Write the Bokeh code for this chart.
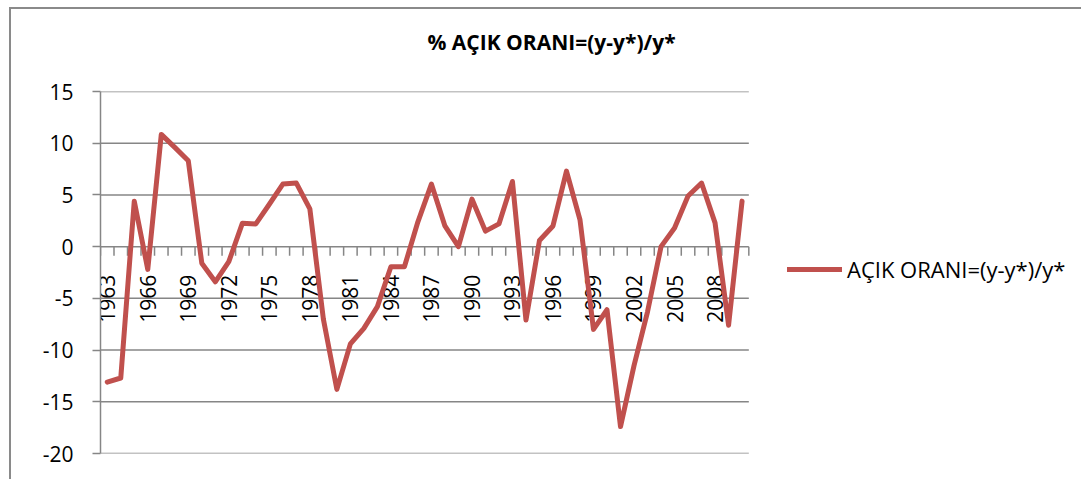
import math
from bokeh.plotting import figure
from bokeh.models import Range1d, Title, Legend, LegendItem, FixedTicker
from bokeh.core.properties import value
from bokeh.embed import file_html
from bokeh.resources import INLINE

# ---- data ----
years = list(range(1963, 2011))
gap = [-13.1, -12.7, 4.4, -2.2, 10.85, 9.6, 8.3, -1.6, -3.4, -1.45,
       2.25, 2.2, 4.1, 6.05, 6.15, 3.65, -7.0, -13.8, -9.4, -7.9,
       -5.8, -1.95, -1.95, 2.4, 6.05, 2.0, 0.0, 4.6, 1.5, 2.2,
       6.3, -7.1, 0.6, 2.0, 7.3, 2.6, -8.0, -6.1, -17.4, -11.5,
       -6.3, 0.0, 1.8, 4.9, 6.15, 2.3, -7.6, 4.4]
y_ticks = [-20, -15, -10, -5, 0, 5, 10, 15]
label_years = years[::3]
series_name = "AÇIK ORANI=(y-y*)/y*"
title_text = "% AÇIK ORANI=(y-y*)/y*"

# ---- style / layout ----
FONT = "Open Sans"
GRAY = "#868686"
RED = "#C0504D"
W, H = 1072, 472
BORDER = 2
ML, MT, MR = 89, 82, 2
FH = 360                      # plot-area height in px
MB = H - BORDER - MT - FH
FW = W - BORDER - ML - MR     # frame width (legend lives inside it)
AREA_W = 647                  # width of the plotted category area in px
px_per_cat = AREA_W / len(years)
x_start = years[0] - 0.5
x_end = x_start + FW / px_per_cat

p = figure(width=W, height=H, output_backend="svg", toolbar_location=None,
           x_range=Range1d(x_start, x_end),
           y_range=Range1d(min(y_ticks), max(y_ticks)),
           x_axis_location=None,
           min_border_left=ML, min_border_top=MT, min_border_bottom=MB, min_border_right=MR)
p.styles = {"margin-left": "9px", "margin-top": "7px",
            "border-left": f"{BORDER}px solid #8a8a8a",
            "border-top": f"{BORDER}px solid #8a8a8a",
            "box-sizing": "border-box"}
p.outline_line_color = None
p.background_fill_color = "white"
p.border_fill_color = "white"

p.add_layout(Title(text=title_text + "\n", align="left", offset=327, standoff=16,
                   text_font=FONT, text_font_size="21px", text_font_style="bold",
                   text_color="black"), "above")

# y axis
p.yaxis.ticker = FixedTicker(ticks=y_ticks)
p.yaxis.major_label_overrides = {t: str(t) for t in y_ticks}
p.yaxis.axis_line_color = GRAY
p.yaxis.axis_line_width = 1.5
p.yaxis.major_tick_line_color = GRAY
p.yaxis.major_tick_line_width = 1.5
p.yaxis.major_tick_out = 8
p.yaxis.major_tick_in = 0
p.yaxis.minor_tick_line_color = None
p.yaxis.major_label_standoff = 19
p.yaxis.major_label_text_font = FONT
p.yaxis.major_label_text_font_size = "21px"
p.yaxis.major_label_text_color = "black"
p.ygrid.grid_line_color = None
p.xgrid.grid_line_color = None

# horizontal gridlines only across the category area
bounds = [y - 0.5 for y in years] + [years[-1] + 0.5]
p.segment(x0=[bounds[0]] * len(y_ticks), x1=[bounds[-1]] * len(y_ticks),
          y0=y_ticks, y1=y_ticks, line_color=GRAY, line_width=1.5)

# category axis at y = 0 drawn by hand
tick_len = 9 * (max(y_ticks) - min(y_ticks)) / FH
p.segment(x0=bounds, x1=bounds, y0=[0] * len(bounds), y1=[-tick_len] * len(bounds),
          line_color=GRAY, line_width=1.5)
p.text(x=label_years, y=[0] * len(label_years), text=[str(y) for y in label_years],
       angle=math.pi / 2, text_align="right", text_baseline="middle", y_offset=28,
       text_font=value(FONT), text_font_size="21px", text_color="black")

r = p.line(years, gap, line_color=RED, line_width=5, line_join="round", line_cap="round")

legend = Legend(items=[LegendItem(label=series_name, renderers=[r])],
                location=(AREA_W + 40, 169), padding=0, margin=0, spacing=0,
                glyph_width=55, glyph_height=20, label_standoff=5,
                border_line_alpha=0, background_fill_alpha=0,
                label_text_font=FONT, label_text_font_size="22px", label_text_color="black")
p.add_layout(legend)

open("out.html", "w").write(file_html(p, INLINE))
